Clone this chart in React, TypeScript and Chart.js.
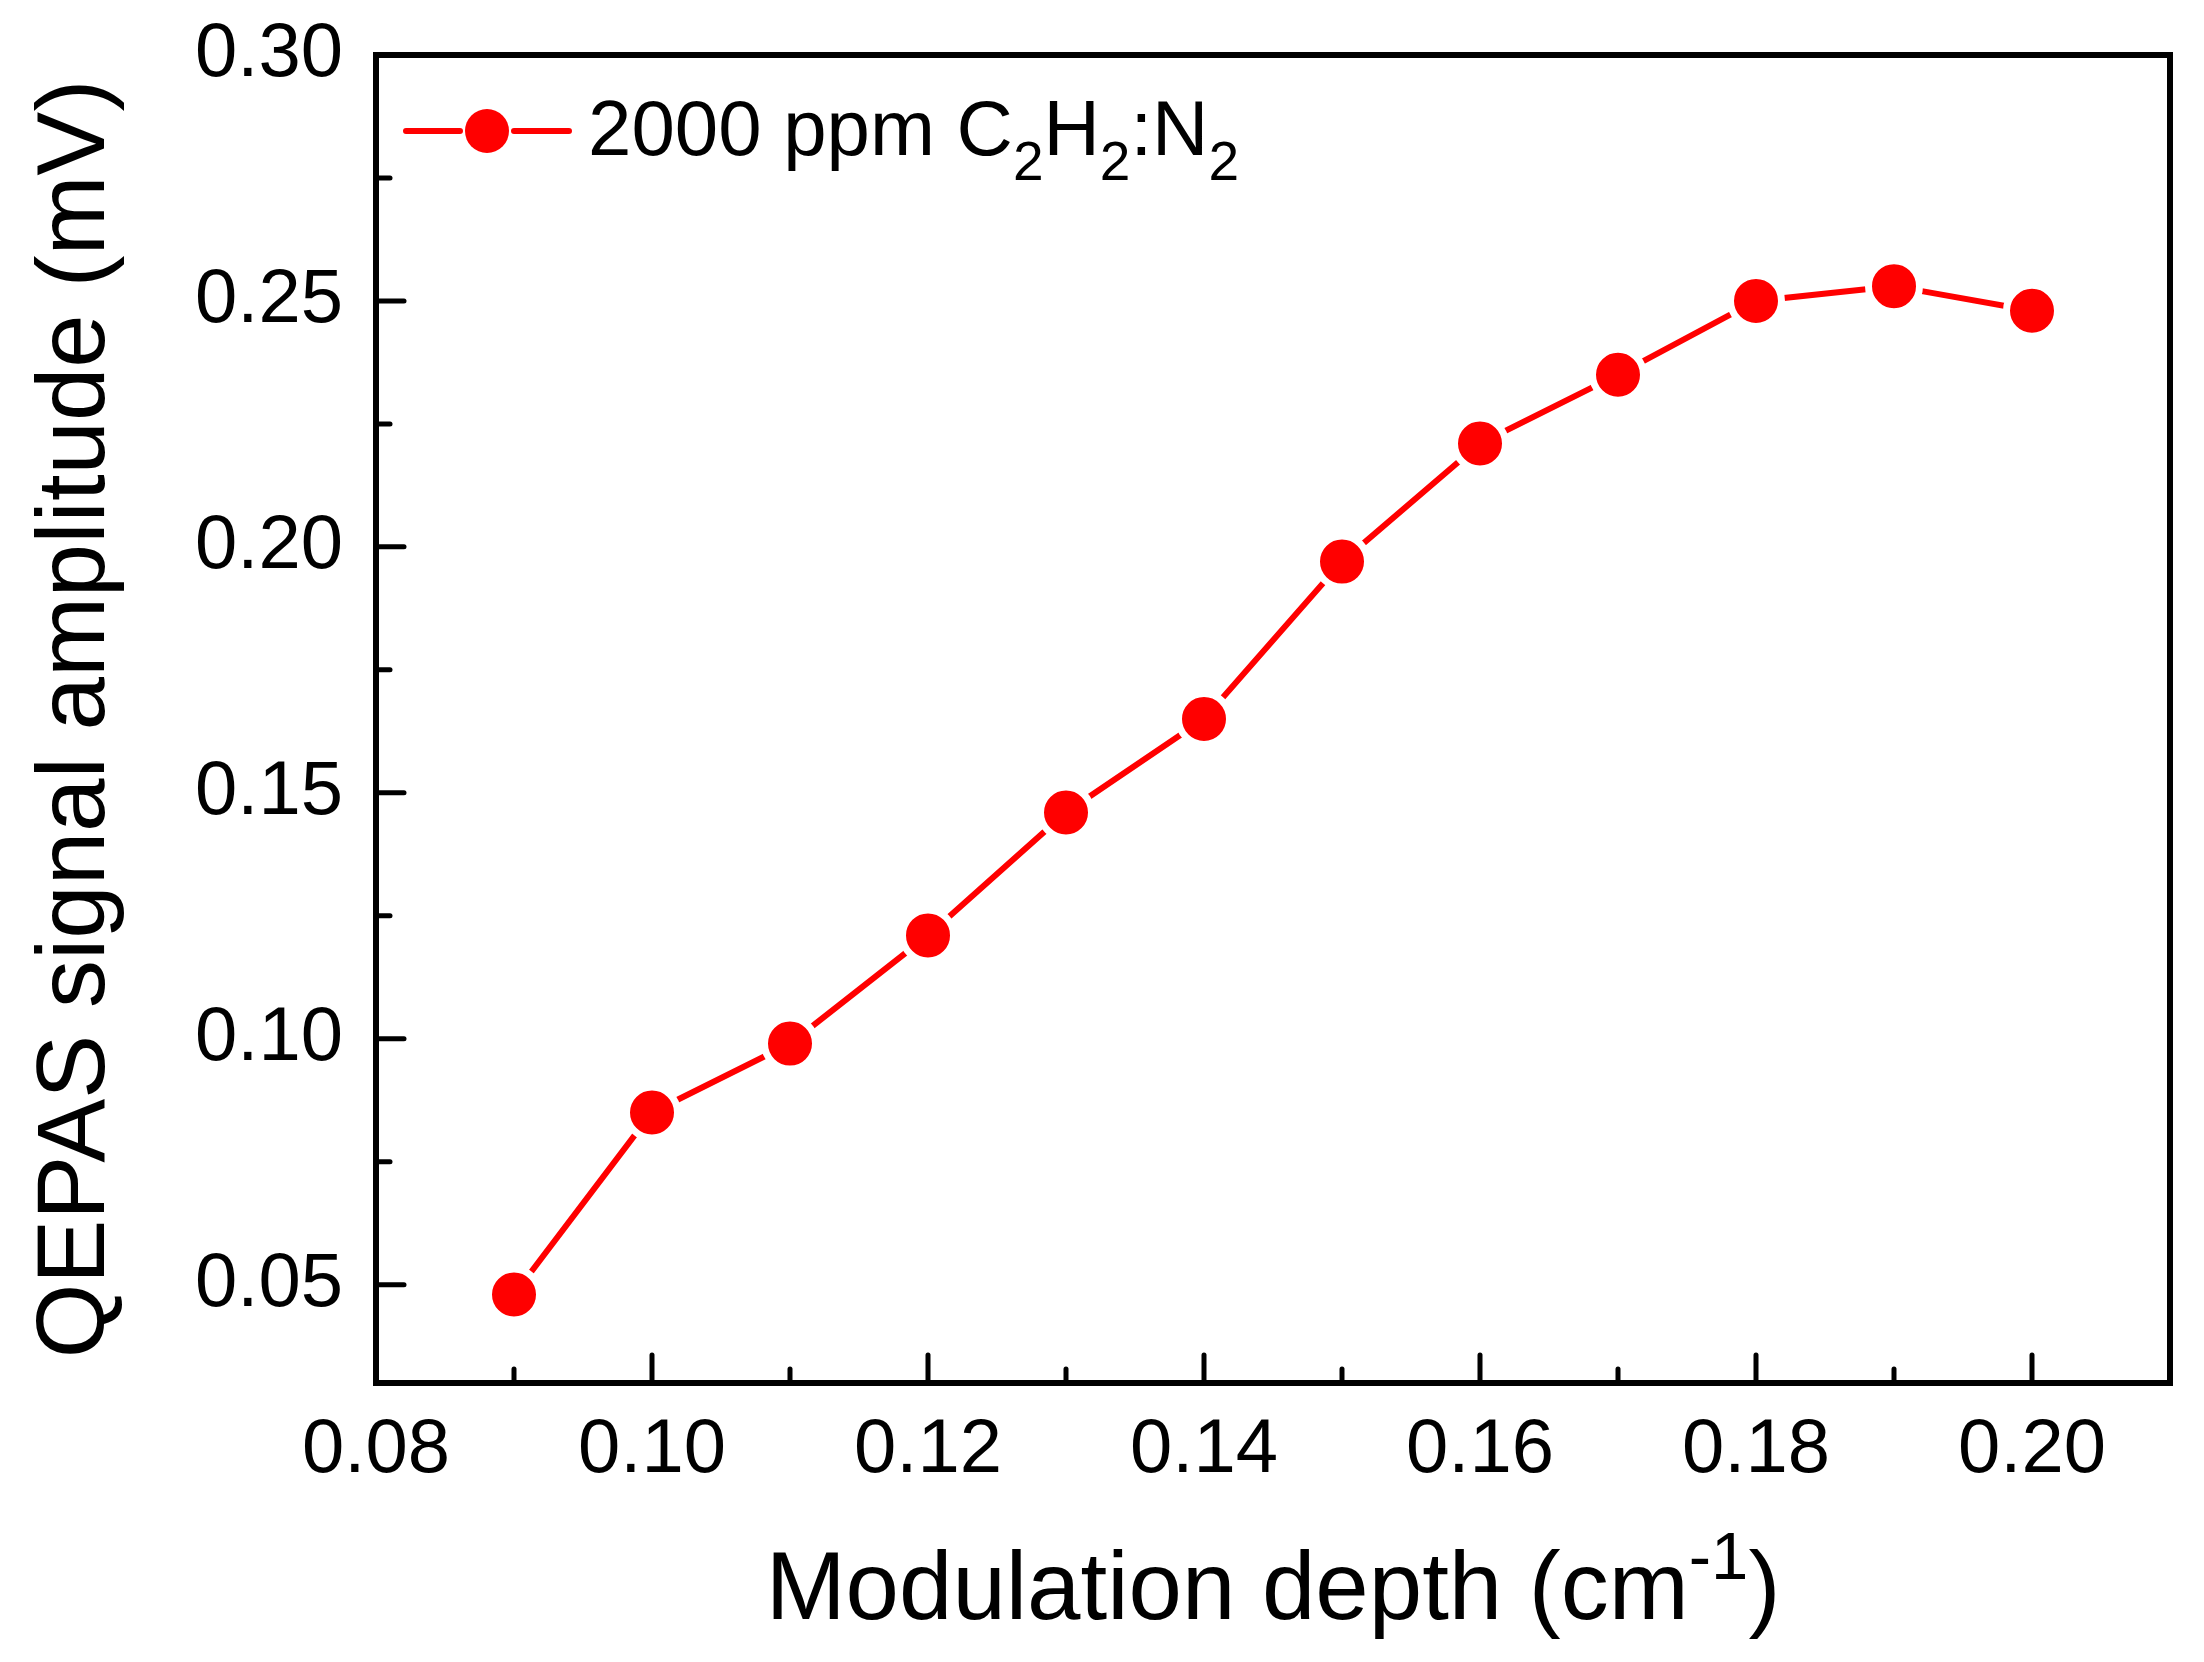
import { useEffect, useRef } from 'react';
import { Chart, registerables } from 'chart.js';

Chart.register(...registerables);

const FONT = "'Liberation Sans', Arial, sans-serif";
const RED = '#ff0000';

// modulation depth (cm-1) vs QEPAS amplitude (mV)
const depths = [0.09, 0.10, 0.11, 0.12, 0.13, 0.14, 0.15, 0.16, 0.17, 0.18, 0.19, 0.20];
const amplitudes = [0.048, 0.085, 0.099, 0.121, 0.146, 0.165, 0.197, 0.221, 0.235, 0.250, 0.253, 0.248];

const xTicks = [0.08, 0.10, 0.12, 0.14, 0.16, 0.18, 0.20];
const xMinorTicks = [0.09, 0.11, 0.13, 0.15, 0.17, 0.19];
const yTicks = [0.05, 0.10, 0.15, 0.20, 0.25, 0.30];
const yMinorTicks = [0.075, 0.125, 0.175, 0.225, 0.275];

type Run = { t: string; shift?: number };

const legendRuns: Run[] = [
  { t: '2000 ppm C' }, { t: '2', shift: -1 }, { t: 'H' }, { t: '2', shift: -1 },
  { t: ':N' }, { t: '2', shift: -1 },
];
const xTitleRuns: Run[] = [{ t: 'Modulation depth (cm' }, { t: '-1', shift: 1 }, { t: ')' }];
const yTitle = 'QEPAS signal amplitude (mV)';

function runsWidth(ctx: CanvasRenderingContext2D, runs: Run[], size: number, small: number) {
  let w = 0;
  for (const r of runs) {
    ctx.font = `${r.shift ? small : size}px ${FONT}`;
    w += ctx.measureText(r.t).width;
  }
  return w;
}

function drawRuns(ctx: CanvasRenderingContext2D, runs: Run[], x: number, y: number,
  size: number, small: number, off: number) {
  let cx = x;
  for (const r of runs) {
    ctx.font = `${r.shift ? small : size}px ${FONT}`;
    const dy = r.shift === -1 ? off : r.shift === 1 ? -off : 0;
    ctx.fillText(r.t, cx, y + dy);
    cx += ctx.measureText(r.t).width;
  }
}

const framePlugin = {
  id: 'frame',
  beforeDatasetsDraw(chart: any) {
    const { ctx, chartArea: a, scales } = chart;
    ctx.save();
    ctx.strokeStyle = '#000';
    ctx.lineWidth = 6;
    ctx.lineJoin = 'miter';
    ctx.strokeRect(a.left, a.top, a.right - a.left, a.bottom - a.top);

    ctx.lineWidth = 5;
    ctx.lineCap = 'round';
    const tick = (x1: number, y1: number, x2: number, y2: number) => {
      ctx.beginPath();
      ctx.moveTo(x1, y1);
      ctx.lineTo(x2, y2);
      ctx.stroke();
    };
    xTicks.forEach((v) => {
      const x = scales.x.getPixelForValue(v);
      if (x > a.left + 2) tick(x, a.bottom, x, a.bottom - 28);
    });
    xMinorTicks.forEach((v) => {
      const x = scales.x.getPixelForValue(v);
      tick(x, a.bottom, x, a.bottom - 14);
    });
    yTicks.forEach((v) => {
      const y = scales.y.getPixelForValue(v);
      if (y > a.top + 2) tick(a.left, y, a.left + 28, y);
    });
    yMinorTicks.forEach((v) => {
      const y = scales.y.getPixelForValue(v);
      tick(a.left, y, a.left + 14, y);
    });
    ctx.restore();
  },
  afterDraw(chart: any) {
    const { ctx, chartArea: a } = chart;
    ctx.save();

    // legend
    const ly = a.top + 76;
    const lx = a.left + 30;
    ctx.strokeStyle = RED;
    ctx.lineWidth = 6;
    ctx.lineCap = 'round';
    ctx.beginPath();
    ctx.moveTo(lx, ly);
    ctx.lineTo(lx + 54, ly);
    ctx.moveTo(lx + 108, ly);
    ctx.lineTo(lx + 163, ly);
    ctx.stroke();
    ctx.fillStyle = RED;
    ctx.beginPath();
    ctx.arc(lx + 81, ly, 22, 0, Math.PI * 2);
    ctx.fill();

    ctx.fillStyle = '#000';
    ctx.textBaseline = 'alphabetic';
    ctx.textAlign = 'left';
    drawRuns(ctx, legendRuns, a.left + 212, a.top + 100, 78, 55, 25);

    // x title
    const xw = runsWidth(ctx, xTitleRuns, 96, 67);
    drawRuns(ctx, xTitleRuns, (a.left + a.right) / 2 - xw / 2, 1619, 96, 67, 40);

    // y title
    ctx.translate(104, (a.top + a.bottom) / 2);
    ctx.rotate(-Math.PI / 2);
    ctx.font = `96px ${FONT}`;
    ctx.textAlign = 'center';
    ctx.fillText(yTitle, 0, 0);
    ctx.restore();
  },
};

export default function App() {
  const canvasRef = useRef<HTMLCanvasElement>(null);
  const chartRef = useRef<Chart | null>(null);

  useEffect(() => {
    if (!canvasRef.current) return;
    if (chartRef.current) chartRef.current.destroy();

    const tickFont = { family: FONT, size: 76 };

    chartRef.current = new Chart(canvasRef.current, {
      type: 'line',
      data: {
        datasets: [
          {
            label: '2000 ppm C2H2:N2',
            data: depths.map((d, i) => ({ x: d, y: amplitudes[i] })),
            borderColor: RED,
            borderWidth: 6,
            pointRadius: 25.5,
            pointHoverRadius: 25.5,
            pointBackgroundColor: RED,
            pointBorderColor: '#ffffff',
            pointBorderWidth: 7,
            tension: 0,
          },
        ],
      },
      options: {
        animation: false,
        responsive: true,
        maintainAspectRatio: false,
        layout: { padding: { top: 55, right: 34, left: 0, bottom: 0 } },
        plugins: {
          legend: { display: false },
          tooltip: { enabled: false },
        },
        scales: {
          x: {
            type: 'linear',
            min: 0.08,
            max: 0.21,
            afterBuildTicks: (scale: any) => {
              scale.ticks = xTicks.map((v) => ({ value: v }));
            },
            afterFit: (scale: any) => {
              scale.height = 279;
              scale.paddingLeft = 0;
              scale.paddingRight = 0;
            },
            grid: { display: false, drawTicks: false },
            border: { display: false },
            ticks: {
              font: tickFont,
              color: '#000',
              padding: 22,
              maxRotation: 0,
              autoSkip: false,
              callback: (v: any) => Number(v).toFixed(2),
            },
          },
          y: {
            type: 'linear',
            min: 0.03,
            max: 0.30,
            afterBuildTicks: (scale: any) => {
              scale.ticks = yTicks.map((v) => ({ value: v }));
            },
            afterFit: (scale: any) => {
              scale.width = 376;
              scale.paddingTop = 0;
              scale.paddingBottom = 0;
            },
            grid: { display: false, drawTicks: false },
            border: { display: false },
            ticks: {
              font: tickFont,
              color: '#000',
              padding: 33,
              autoSkip: false,
              callback: (v: any) => Number(v).toFixed(2),
            },
          },
        },
      },
      plugins: [framePlugin],
    });

    return () => {
      if (chartRef.current) {
        chartRef.current.destroy();
        chartRef.current = null;
      }
    };
  }, []);

  return (
    <div style={{ position: 'fixed', left: 0, top: 0, width: 2204, height: 1662, background: '#fff' }}>
      <canvas ref={canvasRef}></canvas>
    </div>
  );
}
